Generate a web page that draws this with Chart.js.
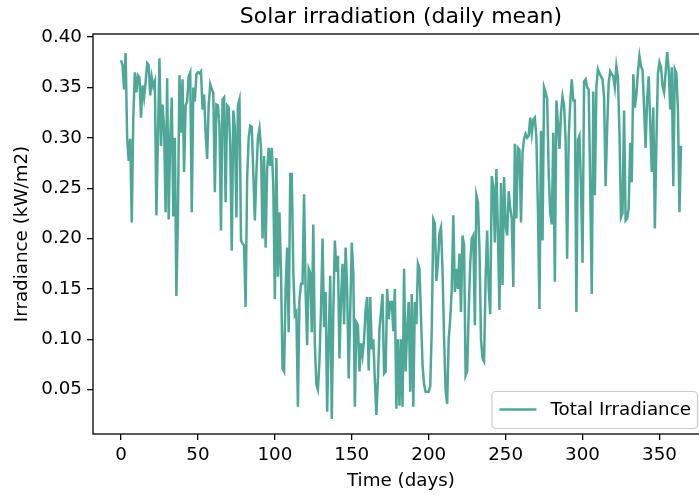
<!DOCTYPE html>
<html>
<head>
<meta charset="utf-8">
<script src="https://cdn.jsdelivr.net/npm/chart.js@4.4.1/dist/chart.umd.min.js"></script>
<style>
  html, body { margin: 0; padding: 0; overflow: hidden; background: #fff; }
  #wrap { width: 720px; height: 495px; }
</style>
</head>
<body>
<div id="wrap"><canvas id="solarChart" width="720" height="495"></canvas></div>
<script>
// daily mean irradiance (kW/m2), one value per day
const irradiance = [
  0.377, 0.372, 0.348, 0.384, 0.300, 0.277, 0.299, 0.216, 0.320, 0.365,
  0.345, 0.362, 0.360, 0.320, 0.352, 0.340, 0.355, 0.374, 0.372, 0.342,
  0.360, 0.351, 0.356, 0.223, 0.300, 0.379, 0.292, 0.333, 0.310, 0.226,
  0.359, 0.219, 0.300, 0.340, 0.222, 0.300, 0.143, 0.223, 0.362, 0.305,
  0.358, 0.266, 0.332, 0.336, 0.361, 0.365, 0.226, 0.350, 0.336, 0.363,
  0.365, 0.364, 0.366, 0.328, 0.343, 0.305, 0.279, 0.332, 0.353, 0.348,
  0.345, 0.246, 0.333, 0.332, 0.312, 0.208, 0.338, 0.340, 0.236, 0.332,
  0.330, 0.292, 0.188, 0.327, 0.310, 0.221, 0.332, 0.338, 0.198, 0.195,
  0.193, 0.132, 0.260, 0.300, 0.312, 0.311, 0.265, 0.218, 0.265, 0.300,
  0.309, 0.290, 0.200, 0.282, 0.191, 0.269, 0.290, 0.272, 0.290, 0.252,
  0.140, 0.280, 0.162, 0.226, 0.167, 0.071, 0.068, 0.150, 0.191, 0.107,
  0.264, 0.264, 0.167, 0.124, 0.127, 0.033, 0.140, 0.155, 0.155, 0.244,
  0.147, 0.094, 0.170, 0.166, 0.107, 0.214, 0.095, 0.055, 0.050, 0.078,
  0.130, 0.200, 0.112, 0.147, 0.028, 0.100, 0.163, 0.021, 0.127, 0.198,
  0.167, 0.183, 0.081, 0.140, 0.175, 0.115, 0.191, 0.150, 0.061, 0.127,
  0.196, 0.166, 0.033, 0.117, 0.114, 0.068, 0.096, 0.084, 0.100, 0.130,
  0.142, 0.069, 0.142, 0.090, 0.100, 0.060, 0.025, 0.060, 0.110, 0.127,
  0.145, 0.066, 0.068, 0.150, 0.120, 0.137, 0.137, 0.108, 0.150, 0.031,
  0.100, 0.034, 0.100, 0.033, 0.170, 0.068, 0.110, 0.137, 0.048, 0.145,
  0.033, 0.137, 0.115, 0.175, 0.170, 0.122, 0.075, 0.055, 0.048, 0.048,
  0.048, 0.053, 0.110, 0.219, 0.215, 0.158, 0.175, 0.205, 0.211, 0.168,
  0.100, 0.050, 0.036, 0.100, 0.120, 0.150, 0.223, 0.147, 0.170, 0.150,
  0.185, 0.127, 0.203, 0.193, 0.064, 0.068, 0.127, 0.175, 0.200, 0.203,
  0.114, 0.243, 0.236, 0.190, 0.100, 0.081, 0.078, 0.160, 0.208, 0.150,
  0.125, 0.262, 0.252, 0.196, 0.269, 0.206, 0.129, 0.255, 0.154, 0.261,
  0.213, 0.203, 0.247, 0.230, 0.220, 0.152, 0.294, 0.220, 0.290, 0.288,
  0.216, 0.285, 0.299, 0.304, 0.300, 0.302, 0.320, 0.304, 0.318, 0.320,
  0.300, 0.230, 0.130, 0.307, 0.198, 0.350, 0.345, 0.338, 0.266, 0.225,
  0.214, 0.305, 0.157, 0.337, 0.315, 0.289, 0.325, 0.341, 0.332, 0.298,
  0.180, 0.300, 0.335, 0.358, 0.337, 0.337, 0.127, 0.298, 0.302, 0.250,
  0.176, 0.356, 0.358, 0.350, 0.348, 0.250, 0.145, 0.346, 0.243, 0.350,
  0.368, 0.364, 0.361, 0.358, 0.340, 0.252, 0.310, 0.355, 0.366, 0.363,
  0.361, 0.350, 0.371, 0.360, 0.305, 0.221, 0.225, 0.327, 0.218, 0.220,
  0.230, 0.295, 0.256, 0.363, 0.330, 0.343, 0.365, 0.381, 0.371, 0.367,
  0.330, 0.290, 0.339, 0.361, 0.315, 0.266, 0.330, 0.210, 0.295, 0.364,
  0.375, 0.370, 0.351, 0.345, 0.365, 0.385, 0.368, 0.328, 0.370, 0.252,
  0.368, 0.364, 0.328, 0.226, 0.292
];
const days = irradiance.map((_, i) => i);

const xTicks = [0, 50, 100, 150, 200, 250, 300, 350];
const yTicks = [0.05, 0.10, 0.15, 0.20, 0.25, 0.30, 0.35, 0.40];

const lineColor = "#4fa897";
const labelSize = 18.3;

Chart.defaults.font.family = "'DejaVu Sans', sans-serif";
Chart.defaults.color = "#000";

// black box round the plot, like matplotlib's spines
const frame = {
  id: "frame",
  afterDraw(chart) {
    const { ctx, chartArea: a } = chart;
    ctx.save();
    ctx.strokeStyle = "#000";
    ctx.lineWidth = 1.3;
    ctx.strokeRect(a.left, a.top, a.right - a.left, a.bottom - a.top);
    ctx.restore();
  },
};

// legend in the lower right corner, inside the axes
const innerLegend = {
  id: "innerLegend",
  afterDraw(chart) {
    const { ctx, chartArea: a } = chart;
    const label = chart.data.datasets[0].label;
    ctx.save();
    ctx.font = labelSize + "px 'DejaVu Sans', sans-serif";
    const tw = ctx.measureText(label).width;
    const w = 59 + tw + 6;
    const h = 37;
    const right = a.right - 12;
    const bottom = a.bottom - 6;
    const left = right - w;
    const top = bottom - h;
    ctx.beginPath();
    ctx.roundRect(left + 0.5, top + 0.5, w, h, 4);
    ctx.fillStyle = "rgba(255,255,255,0.8)";
    ctx.fill();
    ctx.strokeStyle = "#cccccc";
    ctx.lineWidth = 1.2;
    ctx.stroke();
    const cy = top + h / 2;
    ctx.beginPath();
    ctx.moveTo(left + 8, cy);
    ctx.lineTo(left + 45, cy);
    ctx.strokeStyle = lineColor;
    ctx.lineWidth = 2.5;
    ctx.stroke();
    ctx.fillStyle = "#000";
    ctx.textBaseline = "middle";
    ctx.fillText(label, left + 59, cy + 1);
    ctx.restore();
  },
};

const ctx = document.getElementById("solarChart").getContext("2d");
const solarChart = new Chart(ctx, {
  type: "line",
  data: {
    labels: days,
    datasets: [
      {
        label: "Total Irradiance",
        data: days.map((d, i) => ({ x: d, y: irradiance[i] })),
        borderColor: lineColor,
        backgroundColor: lineColor,
        borderWidth: 2.5,
        pointRadius: 0,
        tension: 0,
        fill: false,
      },
    ],
  },
  options: {
    responsive: false,
    animation: false,
    layout: { padding: { left: 0, right: 11, top: 0, bottom: 0 } },
    plugins: {
      legend: { display: false },
      tooltip: { enabled: false },
      title: {
        display: true,
        text: "Solar irradiation (daily mean)",
        fullSize: false,
        font: { size: 22, weight: "normal" },
        color: "#000",
        padding: { top: 4, bottom: 3.6 },
      },
    },
    scales: {
      x: {
        type: "linear",
        min: -18.2,
        max: 382.2,
        afterFit(scale) {
          scale.height = 61;
        },
        afterBuildTicks(scale) {
          scale.ticks = xTicks.map((v) => ({ value: v }));
        },
        border: { display: false },
        grid: {
          drawOnChartArea: false,
          drawTicks: true,
          tickLength: 6,
          color: "#000",
          lineWidth: 1.3,
        },
        ticks: {
          padding: 4,
          maxRotation: 0,
          font: { size: labelSize },
          color: "#000",
        },
        title: {
          display: true,
          text: "Time (days)",
          font: { size: labelSize },
          color: "#000",
          padding: { top: 3, bottom: 3 },
        },
      },
      y: {
        type: "linear",
        min: 0.006,
        max: 0.403,
        afterFit(scale) {
          scale.width = 93;
        },
        afterBuildTicks(scale) {
          scale.ticks = yTicks.map((v) => ({ value: v }));
        },
        border: { display: false },
        grid: {
          drawOnChartArea: false,
          drawTicks: true,
          tickLength: 6,
          color: "#000",
          lineWidth: 1.3,
        },
        ticks: {
          padding: 5,
          font: { size: labelSize },
          color: "#000",
          callback: (v) => Number(v).toFixed(2),
        },
        title: {
          display: true,
          text: "Irradiance (kW/m2)",
          font: { size: labelSize },
          color: "#000",
          padding: { top: 11, bottom: 4 },
        },
      },
    },
  },
  plugins: [frame, innerLegend],
});
</script>
</body>
</html>
